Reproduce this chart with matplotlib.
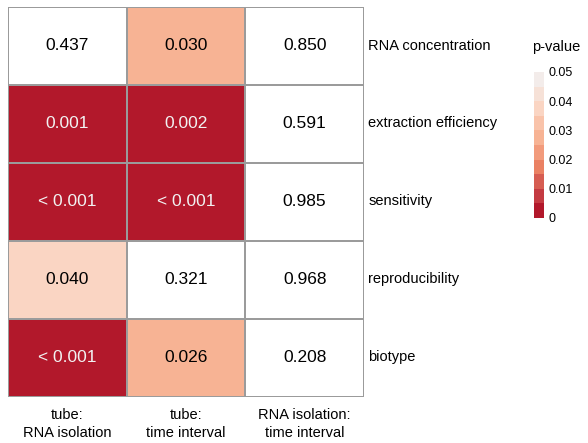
import matplotlib
matplotlib.use("Agg")
import matplotlib.pyplot as plt
import matplotlib.transforms as mtransforms
import numpy as np
from matplotlib.colors import BoundaryNorm, ListedColormap
from matplotlib.cm import ScalarMappable

plt.rcParams["font.family"] = ["Liberation Sans", "DejaVu Sans"]

# --- Data ---
rows = ["RNA concentration", "extraction efficiency", "sensitivity",
        "reproducibility", "biotype"]
cols = ["tube:\nRNA isolation", "tube:\ntime interval", "RNA isolation:\ntime interval"]
# p-values; values below 0.001 are shown as "< 0.001"
pvals = np.array([
    [0.437, 0.030, 0.850],
    [0.001, 0.002, 0.591],
    [0.0005, 0.0005, 0.985],
    [0.040, 0.321, 0.968],
    [0.0005, 0.026, 0.208],
])
legend_ticks = [0, 0.01, 0.02, 0.03, 0.04, 0.05]
legend_labels = ["0", "0.01", "0.02", "0.03", "0.04", "0.05"]

bin_colors = ["#B2182B", "#C43B42", "#D65D52", "#EA8163", "#F29B7C",
              "#F7B394", "#F9C3AA", "#FAD5C3", "#F6E1D7", "#F3ECEA"]
cmap = ListedColormap(bin_colors)
cmap.set_bad("white")
bounds = np.linspace(0, 0.05, 11)
# bins are closed on the right (a p-value of 0.030 falls in 0.025-0.030)
cell_norm = BoundaryNorm(bounds + 1e-9, cmap.N)
bar_norm = BoundaryNorm(bounds, cmap.N)

W, H = 588, 443
fig = plt.figure(figsize=(W / 100, H / 100), dpi=100)

# --- Heatmap ---
ax = fig.add_axes([8 / W, (H - 397) / H, 356 / W, 390 / H])
masked = np.ma.masked_greater(pvals, 0.05)
ax.pcolormesh(masked, cmap=cmap, norm=cell_norm,
              edgecolors="#9b9b9b", linewidth=1.4)
ax.set_xlim(0, len(cols))
ax.set_ylim(len(rows), 0)

for i in range(len(rows)):
    for j in range(len(cols)):
        p = pvals[i, j]
        label = "< 0.001" if p < 0.001 else f"{p:.3f}"
        color = "#f2f2f2" if p < 0.01 else "black"
        ax.text(j + 0.5, i + 0.5, label, ha="center", va="center",
                fontsize=12.5, color=color)

ax.set_xticks(np.arange(len(cols)) + 0.5)
ax.set_xticklabels(cols, fontsize=10.5, linespacing=1.35)
ax.set_yticks(np.arange(len(rows)) + 0.5)
ax.set_yticklabels(rows, fontsize=10.5)
ax.yaxis.tick_right()
ax.tick_params(length=0)
ax.tick_params(axis="x", pad=8)
ax.tick_params(axis="y", pad=3)
shift_up = mtransforms.ScaledTranslation(0, 2 / 100, fig.dpi_scale_trans)
for lbl in ax.get_yticklabels():
    lbl.set_transform(lbl.get_transform() + shift_up)
for s in ax.spines.values():
    s.set_visible(False)

# --- Legend ---
cax = fig.add_axes([534 / W, (H - 218) / H, 10 / W, 146 / H])
cb = fig.colorbar(ScalarMappable(norm=bar_norm, cmap=cmap), cax=cax,
                  ticks=legend_ticks)
cb.ax.set_yticklabels(legend_labels, fontsize=9)
cb.ax.minorticks_off()
cb.ax.tick_params(which="both", length=0, pad=3)
cb.outline.set_visible(False)
fig.text(532 / W, (H - 47) / H, "p-value", fontsize=10.5, va="center", ha="left")

fig.savefig("out.png", dpi=100)
